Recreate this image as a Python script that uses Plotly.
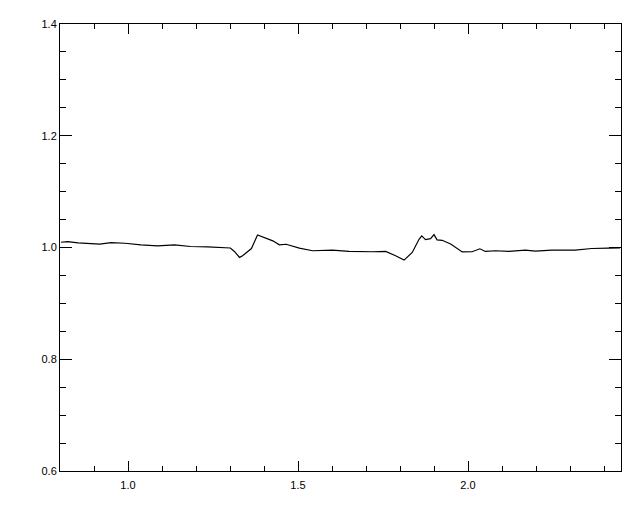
import plotly.graph_objects as go

# Data
x_vals = [0.803, 0.823, 0.853, 0.891, 0.917, 0.950, 0.991, 1.038, 1.087, 1.137,
          1.184, 1.234, 1.284, 1.301, 1.313, 1.328, 1.337, 1.351, 1.363, 1.381,
          1.396, 1.426, 1.445, 1.465, 1.504, 1.543, 1.601, 1.650, 1.719, 1.758,
          1.787, 1.812, 1.836, 1.856, 1.864, 1.875, 1.890, 1.900, 1.909, 1.924,
          1.949, 1.963, 1.983, 2.012, 2.035, 2.051, 2.081, 2.120, 2.169, 2.198,
          2.247, 2.315, 2.364, 2.413, 2.447]
y_vals = [1.0094, 1.0106, 1.0083, 1.0071, 1.0062, 1.0088, 1.0076, 1.0048, 1.0030, 1.0048,
          1.0018, 1.0012, 0.9988, 0.9991, 0.9929, 0.9823, 0.9853, 0.9929, 0.9982, 1.0225,
          1.0189, 1.0119, 1.0048, 1.0058, 0.9988, 0.9942, 0.9952, 0.9929, 0.9924, 0.9929,
          0.9853, 0.9775, 0.9912, 1.0147, 1.0207, 1.0142, 1.0159, 1.0230, 1.0136, 1.0129,
          1.0062, 1.0000, 0.9920, 0.9924, 0.9977, 0.9929, 0.9942, 0.9929, 0.9952, 0.9935,
          0.9952, 0.9952, 0.9982, 0.9988, 0.9991]

x_tickvals = [1.0, 1.5, 2.0]
x_ticktext = ["1.0", "1.5", "2.0"]
y_tickvals = [0.6, 0.8, 1.0, 1.2, 1.4]
y_ticktext = ["0.6", "0.8", "1.0", "1.2", "1.4"]

fig = go.Figure()
fig.add_trace(go.Scatter(x=x_vals, y=y_vals, mode="lines",
                         line=dict(color="black", width=1.2), hoverinfo="skip"))

font = dict(family="Liberation Sans, Arial, sans-serif", size=11, color="black")

# page body adds an 8px margin, so the figure is 624x496 and margins are offset
fig.update_layout(
    width=624, height=496,
    margin=dict(l=52, r=10, t=10, b=33),
    paper_bgcolor="white", plot_bgcolor="white",
    showlegend=False,
    font=font,
    xaxis=dict(range=[0.8, 2.45], tickvals=x_tickvals, ticktext=x_ticktext,
               showgrid=False, zeroline=False, showline=True, linecolor="black",
               linewidth=1, mirror="ticks", ticks="inside", ticklen=10,
               tickcolor="black", tickwidth=1, ticklabelstandoff=4,
               minor=dict(ticks="inside", ticklen=5, dtick=0.1, tick0=0.8,
                          tickcolor="black", showgrid=False),
               tickfont=font),
    yaxis=dict(range=[0.6, 1.4], tickvals=y_tickvals, ticktext=y_ticktext,
               showgrid=False, zeroline=False, showline=True, linecolor="black",
               linewidth=1, mirror="ticks", ticks="inside", ticklen=12,
               tickcolor="black", tickwidth=1,
               minor=dict(ticks="inside", ticklen=6, dtick=0.05, tick0=0.6,
                          tickcolor="black", showgrid=False),
               tickfont=font),
)

fig.write_html("out.html")
